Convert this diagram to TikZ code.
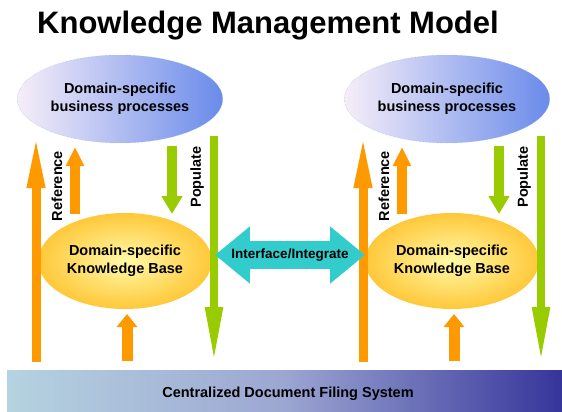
\documentclass[tikz,border=0pt]{standalone}
\usepackage{fontspec}
\setmainfont{Liberation Sans}
\usetikzlibrary{arrows.meta,shapes.geometric}
\definecolor{kmorange}{HTML}{FF9900}
\definecolor{kmgreen}{HTML}{99CC00}
\definecolor{kmteal}{HTML}{33CCCC}
\definecolor{kmblue}{HTML}{6A8BEA}
\definecolor{kmpale}{HTML}{F6EEF8}
\definecolor{kmyellow}{HTML}{FFFAA8}
\definecolor{kmgold}{HTML}{FFC83A}
\definecolor{kmsky}{HTML}{B5D3E0}
\definecolor{kmmist}{HTML}{9CA6D2}
\definecolor{kmnavy}{HTML}{35359A}

\begin{document}
\begin{tikzpicture}[x=1pt, y=-1pt,
    txt/.style={font=\fontsize{14.5}{18}\selectfont\bfseries, align=center},
    biz/.style={txt, ellipse, minimum width=184pt, minimum height=88pt,
        left color=kmpale, right color=kmblue, draw=kmblue!70, densely dotted},
    kb/.style={txt, ellipse, minimum width=154pt, minimum height=96pt,
        inner color=kmyellow, outer color=kmgold},
    side/.style={rotate=90, font=\fontsize{14.5}{16}\selectfont\bfseries},
    lref/.style={kmorange, line width=9pt, -{Triangle[length=56pt, width=16pt]}},
    sref/.style={kmorange, line width=10pt, -{Triangle[length=19pt, width=17pt]}},
    feed/.style={kmorange, line width=11pt, -{Triangle[length=13pt, width=20pt]}},
    spop/.style={kmgreen, line width=10pt, -{Triangle[length=18pt, width=20pt]}},
    lpop/.style={kmgreen, line width=8pt, -{Triangle[length=57pt, width=16pt]}},
    iface/.style={kmteal, line width=28pt,
        {Triangle[length=35pt, width=55pt]}-{Triangle[length=35pt, width=55pt]}}]
    \useasboundingbox (0,0) rectangle (562,412);

    \node[font=\fontsize{31}{36}\selectfont\bfseries] (title) at (268,26) {Knowledge Management Model};

    % filing system along the bottom
    \node[minimum width=555pt, minimum height=42pt, inner sep=0pt,
        left color=kmsky, right color=kmnavy, middle color=kmmist] (filing) at (284.5,391) {};
    \node[txt] (filinglbl) at (288,394) {Centralized Document Filing System};

    \foreach \s/\dx in {l/0, r/327} {
        \node[biz] (biz\s) at (120+\dx,99) {Domain-specific\\business processes};
        \node[kb] (kb\s) at (125+\dx,261) {Domain-specific\\Knowledge Base};
        \node[side] (reflbl\s) at (57+\dx,186) {Reference};
        \node[side] (poplbl\s) at (197+\dx,177) {Populate};

        \coordinate (lrefbot\s) at (36+\dx,362);
        \coordinate (lreftop\s) at (36+\dx,132);
        \coordinate (srefbot\s) at (75+\dx,214);
        \coordinate (sreftop\s) at (75+\dx,147);
        \coordinate (feedbot\s) at (127+\dx,361);
        \coordinate (feedtop\s) at (127+\dx,314);
        \coordinate (spoptop\s) at (172+\dx,146);
        \coordinate (spopbot\s) at (172+\dx,214);
        \coordinate (lpoptop\s) at (214+\dx,136);
        \coordinate (lpopbot\s) at (214+\dx,364);

        \draw[lref] (lrefbot\s) -- (lreftop\s);
        \draw[sref] (srefbot\s) -- (sreftop\s);
        \draw[feed] (feedbot\s) -- (feedtop\s);
        \draw[spop] (spoptop\s) -- (spopbot\s);
        \draw[lpop] (lpoptop\s) -- (lpopbot\s);
    }

    \draw[iface] ([shift={(3,-6)}]kbl.east) -- ([shift={(0,-6)}]kbr.west)
        node[midway, text=black, font=\fontsize{13.5}{16}\selectfont\bfseries] (link) {Interface/Integrate};
\end{tikzpicture}
\end{document}
